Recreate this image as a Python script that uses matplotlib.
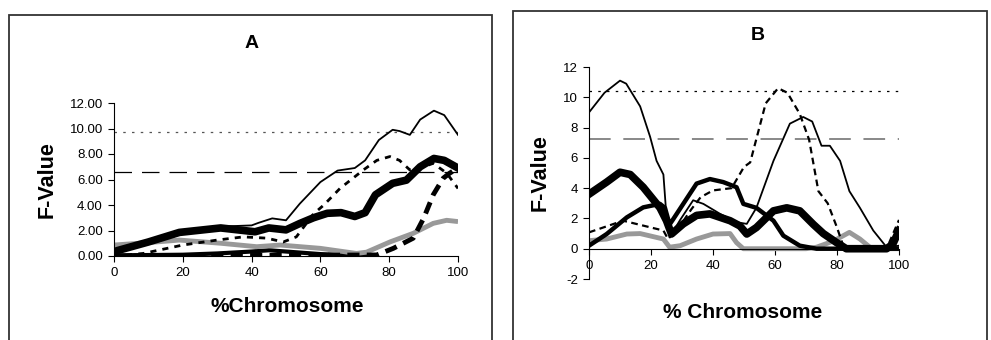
"""Two QTL F-value profiles along a chromosome (panels A and B)."""

import matplotlib

matplotlib.use("Agg")
import matplotlib.pyplot as plt  # noqa: E402
from matplotlib.patches import Rectangle  # noqa: E402

plt.rcParams["font.family"] = ["Liberation Sans", "DejaVu Sans"]
plt.rcParams["axes.unicode_minus"] = False

# ----------------------------------------------------------------------------
# Data: panel A
# ----------------------------------------------------------------------------
a_thin_x = [0, 10, 20, 30, 40, 42, 46, 50, 54, 60, 65, 70, 73, 77, 81, 83, 86, 89, 93, 96, 100]
a_thin_y = [0.3, 1.1, 1.85, 2.3, 2.4, 2.6, 2.95, 2.8, 4.1, 5.8, 6.7, 6.9, 7.5, 9.1, 9.9, 9.8, 9.5, 10.7, 11.4, 11.05, 9.5]

a_thick_x = [0, 10, 19, 31, 41, 45, 50, 54, 58, 62, 66, 70, 73, 76, 81, 85, 89, 93, 96, 100]
a_thick_y = [0.35, 1.1, 1.85, 2.2, 1.9, 2.2, 2.05, 2.55, 3.0, 3.35, 3.4, 3.1, 3.4, 4.8, 5.7, 5.95, 7.0, 7.65, 7.5, 6.9]

a_dot_x = [0, 8.5, 20, 30, 37.6, 44.4, 49.2, 53, 58, 61, 65.7, 72.5, 76.4, 80.2, 83, 86, 89, 92.8, 96.7, 100]
a_dot_y = [0.0, 0.2, 0.86, 1.25, 1.5, 1.4, 1.1, 1.5, 3.3, 4.0, 5.3, 6.75, 7.5, 7.8, 7.5, 6.75, 6.9, 7.27, 6.5, 5.3]

a_dash_x = [0, 76.4, 81.2, 87, 90, 92.8, 95.7, 97.6, 100]
a_dash_y = [0.0, 0.08, 0.6, 1.4, 2.95, 4.8, 6.1, 6.5, 6.9]

a_gray_x = [0, 10, 19, 31, 41.5, 48.3, 60, 70.5, 73.4, 80.2, 87, 92.8, 96.7, 100]
a_gray_y = [0.86, 1.05, 1.25, 1.0, 0.73, 0.86, 0.6, 0.2, 0.3, 1.1, 1.78, 2.56, 2.8, 2.7]

a_low_x = [0, 20, 30, 40, 45, 50, 60, 70, 76]
a_low_y = [0.05, 0.1, 0.2, 0.35, 0.45, 0.35, 0.15, 0.05, 0.0]

a_thr_dot = 9.7
a_thr_dash = 6.6

# ----------------------------------------------------------------------------
# Data: panel B
# ----------------------------------------------------------------------------
b_thin_x = [0, 5, 10, 12, 16.5, 19.7, 21.8, 24, 25, 26, 29.4, 33.6, 36.9, 42.3, 47.6, 50.9, 54,
            59.5, 64.8, 69.1, 72, 75, 77.7, 81, 84, 87.4, 91.7, 96, 100]
b_thin_y = [9.0, 10.3, 11.1, 10.9, 9.4, 7.4, 5.8, 4.9, 2.1, 0.75, 1.9, 3.2, 2.96, 2.3, 1.75, 1.64, 2.7,
            5.8, 8.26, 8.7, 8.4, 6.8, 6.8, 5.8, 3.8, 2.7, 1.2, 0.1, 0.2]

b_dash_x = [0, 11, 24, 25.5, 29, 33, 36, 40, 46, 50, 52, 57, 61, 64, 68, 71, 74, 77, 80, 82, 85, 96, 100]
b_dash_y = [1.08, 1.85, 1.2, 0.64, 1.4, 2.6, 3.4, 3.85, 4.0, 5.4, 5.7, 9.6, 10.6, 10.3, 8.9, 7.2, 3.8, 3.0,
            1.4, 0.2, 0.0, 0.0, 1.9]

b_sq_x = [0, 5.7, 12.2, 17.5, 22.9, 24.5, 26, 27, 30.4, 34.7, 39, 43.3, 47.6, 49.8, 54, 59.5, 62.7, 68,
          73.4, 100]
b_sq_y = [0.2, 0.97, 2.07, 2.73, 2.96, 2.7, 1.6, 1.9, 2.96, 4.3, 4.6, 4.4, 4.06, 2.96, 2.7, 1.85, 0.86,
          0.2, 0.0, 0.0]

b_thick_x = [0, 5.7, 10, 13.3, 17.5, 22.9, 25, 26.6, 30.4, 34.7, 39, 45.5, 48.7, 50.9, 54, 59.5, 63.8,
             68, 72.4, 75.6, 79.9, 83, 96, 98, 100]
b_thick_y = [3.6, 4.4, 5.05, 4.9, 4.06, 2.7, 1.85, 0.97, 1.64, 2.2, 2.3, 1.85, 1.5, 0.97, 1.4, 2.5, 2.7,
             2.5, 1.6, 1.0, 0.4, 0.0, 0.0, 0.3, 1.2]

b_gray_x = [0, 5.7, 12.2, 16.5, 24, 26, 29.4, 34.7, 40, 45.5, 47.6, 49.8, 55, 70, 73.4, 78.8, 84, 87.4,
            90.6, 93, 100]
b_gray_y = [0.53, 0.64, 0.97, 1.0, 0.64, 0.1, 0.2, 0.64, 0.97, 1.0, 0.4, 0.0, 0.0, 0.0, 0.1, 0.5, 1.08,
            0.64, 0.1, 0.0, 0.0]

b_thr_dot = 10.4
b_thr_dash = 7.25

X_TICKS = [0, 20, 40, 60, 80, 100]

# ----------------------------------------------------------------------------
# Figure
# ----------------------------------------------------------------------------
W, H = 991, 340
fig = plt.figure(figsize=(W / 100, H / 100), dpi=100)


def px(x, y):
    """Pixel position (from top-left) -> figure fraction."""
    return x / W, 1 - y / H


# outer frames of the two panels
for x0, y0, x1 in [(9, 15, 492), (513, 11, 987)]:
    fig.add_artist(Rectangle(px(x0, 345), (x1 - x0) / W, (345 - y0) / H, transform=fig.transFigure,
                             fill=False, lw=1.3, ec="#333333"))

# ---- panel A ----
axA = fig.add_axes([114 / W, 1 - 256 / H, (458 - 114) / W, (256 - 103) / H])
axA.axhline(a_thr_dot, color="#555555", lw=0.9, dashes=(2, 5))
axA.axhline(a_thr_dash, color="black", lw=0.9, dashes=(14, 8))
axA.plot(a_low_x, a_low_y, color="black", lw=3)
axA.plot(a_gray_x, a_gray_y, color="#999999", lw=3.5, solid_capstyle="butt")
axA.plot(a_dot_x, a_dot_y, color="black", lw=2, dashes=(2.2, 2.2))
axA.plot(a_dash_x, a_dash_y, color="black", lw=3.5, dashes=(2.5, 1.5))
axA.plot(a_thick_x, a_thick_y, color="black", lw=5.5)
axA.plot(a_thin_x, a_thin_y, color="black", lw=1.3)
axA.set_xlim(0, 100)
axA.set_ylim(0, 12)
axA.set_xticks(X_TICKS)
axA.set_yticks(range(0, 13, 2))
axA.set_yticklabels([f"{v:.2f}" for v in range(0, 13, 2)])
axA.spines[["top", "right"]].set_visible(False)
axA.tick_params(labelsize=9.5, length=4, width=0.8, direction="out", pad=4)

fig.text(*px(252, 43), "A", ha="center", va="center", fontsize=14, fontweight="bold")
fig.text(*px(47, 180), "F-Value", ha="center", va="center", rotation=90, fontsize=15.5, fontweight="bold")
fig.text(*px(287, 307), "%Chromosome", ha="center", va="center", fontsize=15, fontweight="bold")

# ---- panel B ----
axB = fig.add_axes([589 / W, 1 - 279 / H, (899 - 589) / W, (279 - 67) / H])
axB.axhline(b_thr_dot, color="black", lw=0.9, dashes=(2, 5))
axB.axhline(b_thr_dash, color="#7f7f7f", lw=1.3, dashes=(12, 7))
axB.plot(b_gray_x, b_gray_y, color="#999999", lw=3.5)
axB.plot(b_sq_x, b_sq_y, color="black", lw=3.2)
axB.plot(b_thick_x, b_thick_y, color="black", lw=5.5)
axB.plot(b_dash_x, b_dash_y, color="black", lw=1.6, dashes=(3, 2))
axB.plot(b_thin_x, b_thin_y, color="black", lw=1.3)
axB.set_xlim(0, 100)
axB.set_ylim(-2, 12)
axB.set_xticks(X_TICKS)
axB.set_yticks(range(-2, 13, 2))
axB.spines[["top", "right"]].set_visible(False)
axB.spines["bottom"].set_position(("data", 0))
axB.tick_params(labelsize=9.5, length=4, width=0.8, direction="out", pad=4)

fig.text(*px(758, 35), "B", ha="center", va="center", fontsize=14, fontweight="bold")
fig.text(*px(540, 173), "F-Value", ha="center", va="center", rotation=90, fontsize=15.5, fontweight="bold")
fig.text(*px(743, 312), "% Chromosome", ha="center", va="center", fontsize=15, fontweight="bold")

fig.savefig("out.png", dpi=100)
